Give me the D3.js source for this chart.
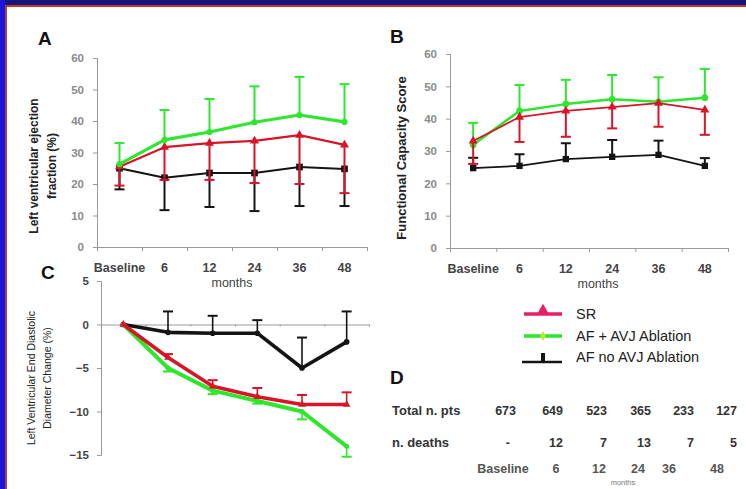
<!DOCTYPE html>
<html>
<head>
<meta charset="utf-8">
<script src="https://cdn.jsdelivr.net/npm/d3@7"></script>
<style>
  body { margin: 0; background: #fff; }
  svg { display: block; font-family: Arial, "Liberation Sans", sans-serif; }
  .tick text { font-family: Arial, "Liberation Sans", sans-serif; }
</style>
</head>
<body>
<div id="chart"></div>
<script>

// Time points shared by all panels
var months = ['Baseline', '6', '12', '24', '36', '48'];

// Panel A - LV ejection fraction (%)
var efGreen = [26.3, 34, 36.5, 39.6, 41.9, 39.7];
var efGreenHi = [33, 43.5, 47, 51, 54, 51.7];
var efRed = [25.5, 31.7, 33, 33.7, 35.5, 32.4];
var efRedLo = [19.5, 21.3, 21.3, 20.3, 20, 17.1];
var efBlack = [25, 22, 23.5, 23.5, 25.4, 24.8];
var efBlackLo = [18.3, 11.7, 12.7, 11.4, 13, 13];

// Panel B - functional capacity score
var fcGreen = [31.9, 42.4, 44.5, 46, 45.2, 46.5];
var fcGreenHi = [38.7, 50.4, 52, 53.5, 52.8, 55.4];
var fcRed = [33.1, 40.5, 42.4, 43.6, 44.8, 42.7];
var fcRedLo = [26, 32.8, 34.4, 37, 37.5, 35];
var fcBlack = [24.7, 25.4, 27.5, 28.2, 28.8, 25.4];
var fcBlackHi = [27.9, 29, 32.4, 33.4, 33.2, 27.8];

// Panel C - LV end diastolic diameter change (%)
var ddBlack = [0, -0.9, -1, -1, -5, -2];
var ddBlackHi = [null, 1.5, 1, 0.5, -1.5, 1.5];
var ddRed = [0, -3.8, -7.1, -8.3, -9.2, -9.2];
var ddRedHi = [null, -3.4, -6.4, -7.3, -8.1, -7.8];
var ddGreen = [0, -5, -7.6, -8.8, -10, -14];
var ddGreenLo = [null, -5.4, -8, -9.1, -10.9, -15.2];

// Panel D - table
var tableRows = ['Total n. pts', 'n. deaths'];
var totalPts = ['673', '649', '523', '365', '233', '127'];
var nDeaths = ['-', '12', '7', '13', '7', '5'];

var legendLabels = ['SR', 'AF + AVJ Ablation', 'AF no AVJ Ablation'];

var GREEN = '#2ee62e', RED = '#d81428', BLACK = '#141414', PINK = '#e62067';

var svg = d3.select('#chart')
  .append('svg')
  .attr('width', 746)
  .attr('height', 489);

svg.append('rect').attr('width', 746).attr('height', 489).attr('fill', '#fff');

// slide frame
svg.append('rect').attr('x', 0).attr('y', 0).attr('width', 746).attr('height', 5).attr('fill', '#14147c');
svg.append('rect').attr('x', 0).attr('y', 5).attr('width', 746).attr('height', 2).attr('fill', '#c0392b');
svg.append('rect').attr('x', 0).attr('y', 0).attr('width', 5).attr('height', 489).attr('fill', '#1616e0');
svg.append('rect').attr('x', 5).attr('y', 5).attr('width', 2).attr('height', 484).attr('fill', '#b0402a');

function panel(cfg) {
  var g = svg.append('g');

  var x = d3.scaleBand().domain(months).range([cfg.x0, cfg.x1]);
  var y = d3.scaleLinear().domain(cfg.yDomain).range([cfg.yBottom, cfg.yTop]);
  var cx = function(i) { return x(months[i]) + x.bandwidth() / 2; };

  // y axis
  var yAxis = g.append('g')
    .attr('transform', 'translate(' + cfg.x0 + ',0)')
    .call(d3.axisLeft(y).tickValues(cfg.yTicks).tickSize(4).tickPadding(cfg.tickPad || 9));
  yAxis.selectAll('path, line').attr('stroke', '#999');
  yAxis.selectAll('text')
    .attr('fill', cfg.tickColor || '#8a8a8a')
    .attr('font-size', 11.5)
    .attr('font-weight', 'bold');

  // x axis line with boundary ticks
  var idx = d3.scaleLinear().domain([0, 6]).range([cfg.x0, cfg.x1]);
  var xa = g.append('g')
    .attr('transform', 'translate(0,' + y(cfg.xAt) + ')')
    .call(d3.axisBottom(idx).tickValues(d3.range(1, 7)).tickSize(cfg.xTick).tickFormat(''));
  xa.selectAll('path, line').attr('stroke', '#999');

  if (cfg.labels) {
    var xl = g.append('g')
      .attr('transform', 'translate(0,' + (cfg.yBottom + 13) + ')')
      .call(d3.axisBottom(x).tickSize(0));
    xl.select('.domain').remove();
    xl.selectAll('text')
      .attr('fill', '#444')
      .attr('font-size', 12.5)
      .attr('font-weight', 'bold');
    g.append('text')
      .attr('x', cfg.monthsX).attr('y', cfg.yBottom + 40)
      .attr('text-anchor', 'middle')
      .attr('font-size', 12.5).attr('fill', '#444')
      .text('months');
  }

  cfg.series.forEach(function(s) {
    var sg = g.append('g');
    // error bars
    var bound = s.hi || s.lo;
    if (bound) {
      bound.forEach(function(b, i) {
        if (b === null) return;
        sg.append('line')
          .attr('x1', cx(i)).attr('x2', cx(i))
          .attr('y1', y(s.mean[i])).attr('y2', y(b))
          .attr('stroke', s.color).attr('stroke-width', s.errWidth || 2);
        sg.append('line')
          .attr('x1', cx(i) - 5).attr('x2', cx(i) + 5)
          .attr('y1', y(b)).attr('y2', y(b))
          .attr('stroke', s.color).attr('stroke-width', 2);
      });
    }
    var line = d3.line()
      .x(function(d, i) { return cx(i); })
      .y(function(d) { return y(d); });
    sg.append('path')
      .datum(s.mean)
      .attr('d', line)
      .attr('fill', 'none')
      .attr('stroke', s.color)
      .attr('stroke-width', s.width)
      .attr('stroke-linejoin', 'round');
    sg.selectAll('path.m')
      .data(s.mean)
      .enter()
      .append('path')
      .attr('class', 'm')
      .attr('transform', function(d, i) { return 'translate(' + cx(i) + ',' + y(d) + ')'; })
      .attr('d', d3.symbol().type(s.symbol).size(s.size))
      .attr('fill', s.color);
  });

  // panel letter
  g.append('text')
    .attr('x', cfg.letterX).attr('y', cfg.letterY)
    .attr('font-size', 19).attr('font-weight', 'bold').attr('fill', '#111')
    .text(cfg.letter);

  // rotated title
  var t = g.append('text')
    .attr('transform', 'translate(' + cfg.titleX + ',' + cfg.titleY + ') rotate(-90)')
    .attr('text-anchor', 'middle')
    .attr('font-size', cfg.titleSize)
    .attr('font-weight', cfg.titleWeight)
    .attr('fill', '#222');
  cfg.title.forEach(function(line, i) {
    t.append('tspan').attr('x', 0).attr('dy', i === 0 ? 0 : cfg.titleSize * 1.5).text(line);
  });
}

panel({
  letter: 'A', letterX: 38, letterY: 45,
  x0: 97, x1: 367, yTop: 58, yBottom: 247, yDomain: [0, 60],
  yTicks: [0, 10, 20, 30, 40, 50, 60], xAt: 0, xTick: 4,
  labels: true, monthsX: 232,
  title: ['Left ventricular ejection', 'fraction (%)'], titleX: 38, titleY: 166, titleSize: 12, titleWeight: 'bold',
  series: [
    { mean: efBlack, lo: efBlackLo, color: BLACK, width: 2, symbol: d3.symbolSquare, size: 45 },
    { mean: efRed, lo: efRedLo, color: RED, width: 2.2, symbol: d3.symbolTriangle, size: 35 },
    { mean: efGreen, hi: efGreenHi, color: GREEN, width: 3.2, symbol: d3.symbolCircle, size: 30 }
  ]
});

panel({
  letter: 'B', letterX: 390, letterY: 43,
  x0: 450, x1: 728, yTop: 54, yBottom: 248, yDomain: [0, 60],
  yTicks: [0, 10, 20, 30, 40, 50, 60], xAt: 0, xTick: 4,
  labels: true, monthsX: 598,
  title: ['Functional Capacity Score'], titleX: 406, titleY: 158, titleSize: 13, titleWeight: 'bold',
  series: [
    { mean: fcBlack, hi: fcBlackHi, color: BLACK, width: 1.8, symbol: d3.symbolSquare, size: 40 },
    { mean: fcGreen, hi: fcGreenHi, color: GREEN, width: 2.5, symbol: d3.symbolCircle, size: 35 },
    { mean: fcRed, lo: fcRedLo, color: RED, width: 1.8, symbol: d3.symbolTriangle, size: 35 }
  ]
});

panel({
  letter: 'C', letterX: 41, letterY: 279,
  x0: 101, x1: 369, yTop: 281, yBottom: 455, yDomain: [-15, 5],
  yTicks: [-15, -10, -5, 0, 5], xAt: 0, xTick: 2, tickColor: '#444', tickPad: 8,
  labels: false,
  title: ['Left Ventricular End Diastolic', 'Diameter Change (%)'], titleX: 35, titleY: 378, titleSize: 10.5, titleWeight: 'normal',
  series: [
    { mean: ddBlack, hi: ddBlackHi, color: BLACK, width: 3.6, symbol: d3.symbolCircle, size: 25, errWidth: 1.6 },
    { mean: ddGreen, lo: ddGreenLo, color: GREEN, width: 4, symbol: d3.symbolCircle, size: 20, errWidth: 1.6 },
    { mean: ddRed, hi: ddRedHi, color: RED, width: 3.6, symbol: d3.symbolTriangle, size: 25, errWidth: 1.6 }
  ]
});

// legend
var legend = svg.append('g').attr('transform', 'translate(524,0)');
var legendY = [314, 336, 357];
legendLabels.forEach(function(lbl, i) {
  var ly = legendY[i];
  if (i === 0) {
    legend.append('line').attr('x1', 0).attr('x2', 38).attr('y1', ly).attr('y2', ly)
      .attr('stroke', PINK).attr('stroke-width', 3.5);
    legend.append('path').attr('transform', 'translate(19,' + (ly - 3) + ')')
      .attr('d', d3.symbol().type(d3.symbolTriangle).size(70)).attr('fill', PINK);
  } else if (i === 1) {
    legend.append('line').attr('x1', 0).attr('x2', 38).attr('y1', ly).attr('y2', ly)
      .attr('stroke', GREEN).attr('stroke-width', 3.5);
    legend.append('path').attr('transform', 'translate(19,' + ly + ')')
      .attr('d', d3.symbol().type(d3.symbolDiamond).size(25)).attr('fill', '#b8e62e');
  } else {
    legend.append('line').attr('x1', -2).attr('x2', 38).attr('y1', ly + 5).attr('y2', ly + 5)
      .attr('stroke', BLACK).attr('stroke-width', 2.5);
    legend.append('rect').attr('x', 17).attr('y', ly - 4).attr('width', 4).attr('height', 9).attr('fill', BLACK);
  }
  legend.append('text')
    .attr('x', 52).attr('y', ly + 5)
    .attr('font-size', 14.5).attr('fill', '#222')
    .text(lbl);
});

// panel D table
svg.append('text').attr('x', 390).attr('y', 384)
  .attr('font-size', 19).attr('font-weight', 'bold').attr('fill', '#111').text('D');

var colX = [516, 563, 607, 651, 694, 737];
var rowY = [415, 447];
[totalPts, nDeaths].forEach(function(row, r) {
  svg.append('text').attr('x', 392).attr('y', rowY[r])
    .attr('font-size', 13).attr('font-weight', 'bold').attr('fill', '#333')
    .text(tableRows[r]);
  row.forEach(function(v, i) {
    svg.append('text')
      .attr('x', v === '-' ? colX[i] - 6 : colX[i]).attr('y', rowY[r])
      .attr('text-anchor', 'end')
      .attr('font-size', 12.5).attr('font-weight', 'bold').attr('fill', '#333')
      .text(v);
  });
});

var footX = [503, 556, 599, 638, 669, 717];
months.forEach(function(m, i) {
  svg.append('text')
    .attr('x', footX[i]).attr('y', 473)
    .attr('text-anchor', 'middle')
    .attr('font-size', 12.5).attr('font-weight', 'bold').attr('fill', '#555')
    .text(m);
});
svg.append('text').attr('x', 623).attr('y', 485)
  .attr('text-anchor', 'middle').attr('font-size', 7.5).attr('fill', '#777').text('months');

</script>
</body>
</html>
